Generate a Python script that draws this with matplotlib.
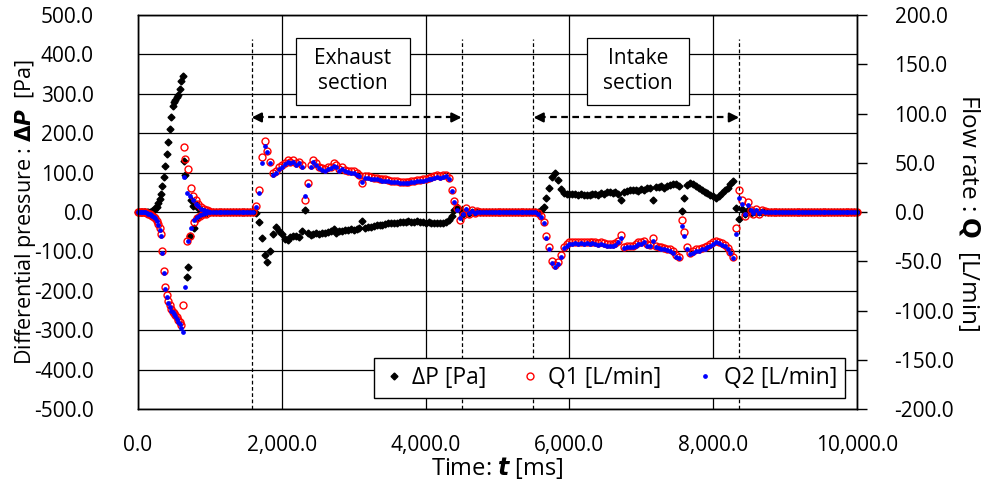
import numpy as np
import matplotlib.pyplot as plt

plt.rcParams['font.family'] = ['Open Sans', 'DejaVu Sans']
plt.rcParams['mathtext.fontset'] = 'dejavusans'

# sampling times [ms]: 20 ms over the first second, 40 ms afterwards
t_a = np.arange(0, 1000, 20)
t_b = np.arange(1000, 10001, 40)

# ---- 0 - 980 ms (start-up transient) ----
dp_a = [0, 0, 0, 0, 0, 0, 0, 0, 0, 0,
        2, 5, 9, 14, 22, 32, 45, 65, 90, 118,
        148, 178, 210, 240, 268, 278, 285, 292, 298, 312,
        332, 345, 130, 95, -165, -140, -60, 30, 15, -40,
        20, -15, 10, -8, 6, -4, 3, -2, 1, 0]
q1_a = [0, 0, 0, 0, 0, 0, -1, -2, -2, -3,
        -4, -5, -6, -9, -12, -16, -22, -40, -60, -76,
        -84, -90, -94, -98, -102, -103, -105, -107, -110, -112,
        -115, -94, 66, 54, -29, 44, -24, 24, 16, -10,
        12, -6, 8, -4, 5, -2, 3, -2, 2, 1]
q2_a = [0, 0, 0, 0, 0, 0, -1, -2, -2, -3,
        -4, -5, -6, -9, -13, -18, -24, -42, -62, -78,
        -86, -92, -96, -100, -102, -104, -106, -109, -112, -114,
        -118, -122, 36, -76, 19, -29, 16, -16, 12, -8,
        8, -5, 6, -3, 3, -2, 2, -1, 1, 0]

# ---- 1000 - 10000 ms (exhaust and intake strokes), 10 values per row ----
dp_b = [0, 0, 0, 0, 0, 0, 0, 0, 0, 0,                      # 1000
        0, 0, 0, 0, 0, 0, -3, -25, -65, -110,              # 1400
        -128, -100, -55, -38, -48, -55, -68, -72, -64, -62,  # 1800
        -60, -63, -48, 5, -52, -58, -56, -54, -55, -52,    # 2200
        -54, -50, -48, -44, -52, -47, -48, -45, -46, -43,  # 2600
        -45, -42, -40, -22, -40, -38, -37, -36, -34, -33,  # 3000
        -32, -31, -29, -28, -27, -27, -26, -25, -25, -24,  # 3400
        -25, -25, -24, -26, -26, -27, -26, -28, -27, -28,  # 3800
        -29, -27, -25, -20, -10, 5, 12, 6, -5, 3,          # 4200
        -2, 1, 0, 0, 0, 0, 0, 0, 0, 0,                     # 4600
        0, 0, 0, 0, 0, 0, 0, 0, 0, 0,                      # 5000
        0, 0, 0, 0, 1, 4, 12, 35, 62, 88,                  # 5400
        98, 82, 58, 48, 46, 47, 45, 46, 44, 45,            # 5800
        43, 44, 42, 45, 46, 44, 48, 47, 50, 52,            # 6200
        48, 50, 45, 30, 52, 54, 56, 55, 57, 54,            # 6600
        58, 56, 60, 62, 30, 63, 64, 66, 62, 65,            # 7000
        68, 70, 72, 65, 2, 35, 68, 73, 70, 66,             # 7400
        60, 56, 52, 48, 44, 40, 36, 40, 48, 55,            # 7800
        62, 70, 78, 10, -18, 8, -6, 4, -2, 1,              # 8200
        0, 0, 0, 0, 0, 0, 0, 0, 0, 0,                      # 8600
        0, 0, 0, 0, 0, 0, 0, 0, 0, 0,                      # 9000
        0, 0, 0, 0, 0, 0, 0, 0, 0, 0,                      # 9400
        0, 0, 0, 0, 0, 0]                                  # 9800
q1_b = [0, 0, 0, 0, 0, 0, 0, 0, 0, 0,
        0, 0, 0, 0, 0, 0, 6, 22, 56, 72,
        62, 51, 40, 42, 46, 48, 50, 53, 51, 53,
        50, 51, 48, 12, 29, 48, 53, 50, 46, 45,
        44, 46, 46, 50, 48, 44, 46, 43, 42, 42,
        42, 40, 38, 29, 37, 37, 36, 35, 35, 34,
        34, 34, 33, 32, 32, 31, 30, 30, 30, 30,
        31, 32, 33, 33, 34, 34, 35, 36, 37, 38,
        37, 38, 38, 35, 22, 11, 4, -8, -3, 4,
        -2, 2, -1, 1, 0, 0, 0, 0, 0, 0,
        0, 0, 0, 0, 0, 0, 0, 0, 0, 0,
        0, 0, 0, 0, -1, -4, -10, -24, -36, -50,
        -54, -51, -44, -35, -32, -30, -30, -30, -30, -30,
        -30, -30, -30, -30, -30, -31, -30, -31, -32, -32,
        -32, -31, -29, -23, -35, -34, -34, -34, -32, -30,
        -30, -29, -32, -33, -26, -34, -35, -36, -37, -38,
        -38, -40, -44, -46, -8, -20, -36, -42, -40, -38,
        -38, -37, -36, -34, -32, -30, -29, -30, -31, -33,
        -37, -41, -46, -16, 22, 12, -4, 10, 2, -2,
        3, -2, 2, 1, 0, 0, 0, 0, 0, 0,
        0, 0, 0, 0, 0, 0, 0, 0, 0, 0,
        0, 0, 0, 0, 0, 0, 0, 0, 0, 0,
        0, 0, 0, 0, 0, 0]
q2_b = [0, 0, 0, 0, 0, 0, 0, 0, 0, 0,
        0, 0, 0, 0, 0, 0, 5, 19, 50, 67,
        61, 50, 38, 40, 44, 46, 49, 51, 50, 51,
        48, 50, 46, 16, 27, 46, 51, 48, 45, 43,
        42, 44, 45, 47, 46, 42, 44, 42, 41, 40,
        40, 38, 37, 30, 35, 35, 34, 34, 34, 33,
        32, 32, 31, 30, 30, 30, 29, 29, 29, 29,
        30, 30, 31, 31, 32, 33, 34, 34, 35, 36,
        35, 36, 37, 34, 21, 10, 2, -6, -2, 3,
        -1, 1, -1, 0, 0, 0, 0, 0, 0, 0,
        0, 0, 0, 0, 0, 0, 0, 0, 0, 0,
        0, 0, 0, 0, -2, -5, -11, -26, -38, -52,
        -56, -53, -46, -37, -34, -32, -32, -31, -32, -31,
        -32, -31, -32, -31, -32, -33, -32, -33, -34, -34,
        -34, -33, -30, -26, -37, -36, -35, -35, -34, -32,
        -32, -30, -34, -34, -29, -35, -37, -38, -38, -39,
        -40, -42, -46, -47, -14, -24, -38, -43, -42, -40,
        -40, -38, -38, -36, -34, -32, -30, -31, -33, -34,
        -38, -42, -47, -22, 14, 8, -2, 7, 2, -1,
        2, -1, 1, 0, 0, 0, 0, 0, 0, 0,
        0, 0, 0, 0, 0, 0, 0, 0, 0, 0,
        0, 0, 0, 0, 0, 0, 0, 0, 0, 0,
        0, 0, 0, 0, 0, 0]

t = np.concatenate([t_a, t_b])
dp = np.array(dp_a + dp_b, dtype=float)
q1 = np.array(q1_a + q1_b, dtype=float)
q2 = np.array(q2_a + q2_b, dtype=float)

# stroke boundaries [ms] and section labels
bounds_exhaust = (1580, 4500)
bounds_intake = (5500, 8360)

fig = plt.figure(figsize=(9.91, 4.94), dpi=100)
ax = fig.add_axes([0.1393, 0.172, 0.7255, 0.7976])
ax2 = ax.twinx()

ax.set_xlim(0, 10000)
ax.set_ylim(-500, 500)
ax2.set_ylim(-200, 200)

xt = np.arange(0, 10001, 2000)
ax.set_xticks(xt)
ax.set_xticklabels([f'{v:,.1f}' for v in xt])
yt = np.arange(-500, 501, 100)
ax.set_yticks(yt)
ax.set_yticklabels([f'{v:.1f}' for v in yt])
y2t = np.arange(-200, 201, 50)
ax2.set_yticks(y2t)
ax2.set_yticklabels([f'{v:.1f}' for v in y2t])

ax.grid(True, color='black', lw=0.9)
ax.set_axisbelow(True)
ax.tick_params(axis='x', length=0, pad=19, labelsize=15)
ax.tick_params(axis='y', length=0, pad=32, labelsize=15)
ax2.tick_params(axis='y', direction='out', length=7, width=1, pad=20, labelsize=15)
for a in (ax, ax2):
    for s in a.spines.values():
        s.set_color('black')
        s.set_linewidth(1)

# measured data
h1, = ax.plot(t, dp, ls='none', marker='D', ms=3.5, color='black', label='ΔP [Pa]',
              clip_on=False)
h2, = ax2.plot(t, q1, ls='none', marker='o', ms=5, mfc='none', mec='red', mew=1,
               label='Q1 [L/min]', clip_on=False)
h3, = ax2.plot(t, q2, ls='none', marker='o', ms=2.4, color='blue', label='Q2 [L/min]',
               clip_on=False)

# section markers
for xb in bounds_exhaust + bounds_intake:
    ax.vlines(xb, -500, 440, colors='black', lw=0.9, linestyles=(0, (3, 2)))
for x0, x1 in (bounds_exhaust, bounds_intake):
    ax.plot([x0 + 80, x1 - 80], [240, 240], color='black', lw=1.6, ls=(0, (3, 2)))
    ax.annotate('', xy=(x0, 240), xytext=(x0 + 100, 240),
                arrowprops=dict(arrowstyle='-|>', color='black', lw=1.6,
                                mutation_scale=14, shrinkA=0, shrinkB=0))
    ax.annotate('', xy=(x1, 240), xytext=(x1 - 100, 240),
                arrowprops=dict(arrowstyle='-|>', color='black', lw=1.6,
                                mutation_scale=14, shrinkA=0, shrinkB=0))

for (bx0, bx1), txt in (((2192, 3776), 'Exhaust\nsection'), ((6247, 7665), 'Intake\nsection')):
    ax.add_patch(plt.Rectangle((bx0, 272), bx1 - bx0, 170, fc='white', ec='black', lw=0.9, zorder=3))
    ax.text((bx0 + bx1) / 2, 357, txt, ha='center', va='center', fontsize=15, zorder=4,
            linespacing=1.25)

ax.set_xlabel('Time: $\\mathbfit{t}$ [ms]', fontsize=17, labelpad=-1)
ax.set_ylabel('Differential pressure : $\\mathbf{\\Delta}\\mathbfit{P}$  [Pa]', fontsize=15.5, labelpad=-3)
ax2.set_ylabel('Flow rate : $\\mathbf{Q}$  [L/min]', fontsize=17.5, rotation=270, labelpad=20)

leg = ax2.legend(handles=[h1, h2, h3], loc='lower right', bbox_to_anchor=(0.9833, 0.028),
                 borderaxespad=0, ncol=3, fontsize=16.5, frameon=True, fancybox=False,
                 edgecolor='black', framealpha=1, borderpad=0.35, handletextpad=0.3,
                 columnspacing=1.4, handlelength=1.0)
leg.get_frame().set_linewidth(1)

fig.savefig('out.png', dpi=100)
